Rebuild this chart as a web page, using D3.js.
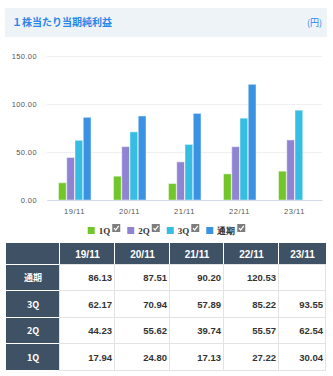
<!DOCTYPE html>
<html><head><meta charset="utf-8">
<script src="https://cdn.jsdelivr.net/npm/d3@7"></script>
<style>
body{margin:0;background:#fff;}
svg{display:block;}
</style></head>
<body>
<svg id="c" width="333" height="376"></svg>
<script>
const categories = ["19/11","20/11","21/11","22/11","23/11"];
const seriesNames = ["1Q","2Q","3Q","通期"];
const q1 = [17.94, 24.80, 17.13, 27.22, 30.04];
const q2 = [44.23, 55.62, 39.74, 55.57, 62.54];
const q3 = [62.17, 70.94, 57.89, 85.22, 93.55];
const full = [86.13, 87.51, 90.20, 120.53, null];
const yTicks = [0, 50, 100, 150];
const colors = ["#72c62a","#9084d2","#36bde2","#3a93e2"];
const seriesVals = [q1, q2, q3, full];
const tableRows = [["通期", full],["3Q", q3],["2Q", q2],["1Q", q1]];

const svg = d3.select("#c");
const jp = "'Noto Sans CJK JP','Noto Sans',sans-serif";
const num = "'Liberation Sans',Arial,sans-serif";

// header band
svg.append("rect").attr("x",5).attr("y",8).attr("width",322).attr("height",29).attr("fill","#eef3f8");
svg.append("text").attr("x",12).attr("y",26).attr("font-family",jp).attr("font-size",10).attr("font-weight","bold")
  .attr("fill","#2a86e8").text("１株当たり当期純利益");
svg.append("text").attr("x",322).attr("y",26).attr("text-anchor","end").attr("font-family",jp).attr("font-size",9)
  .attr("fill","#2a86e8").text("(円)");

// chart
const x0 = d3.scaleBand().domain(categories).range([47,322]).paddingInner(0.4).paddingOuter(0.2);
const x1 = d3.scaleBand().domain(seriesNames).range([0, x0.bandwidth()]);
const y = d3.scaleLinear().domain([0,150]).range([200,56]);

const yAxis = svg.append("g").attr("transform","translate(47,0)")
  .call(d3.axisLeft(y).tickValues(yTicks).tickFormat(d3.format(".2f")).tickSize(-275).tickPadding(10));
yAxis.select(".domain").remove();
yAxis.selectAll(".tick line").attr("stroke","#eeeff2");
yAxis.selectAll(".tick text").attr("font-family",num).attr("font-size",7.5).attr("fill","#555").attr("letter-spacing","0.4");

const gBars = svg.append("g");
seriesNames.forEach((s,si)=>{
  gBars.selectAll(null).data(categories.map((c,i)=>({c, v: seriesVals[si][i]})).filter(d=>d.v!=null))
    .enter().append("rect")
    .attr("x", d=>x0(d.c)+x1(s)+0.5)
    .attr("y", d=>y(d.v))
    .attr("width", x1.bandwidth()-0.5)
    .attr("height", d=>y(0)-y(d.v))
    .attr("fill", colors[si])
    .attr("stroke","rgba(255,255,255,0.45)").attr("stroke-width",1);
});

const xAxis = svg.append("g").attr("transform","translate(0,200)")
  .call(d3.axisBottom(x0).tickSize(0).tickPadding(9));
xAxis.select(".domain").attr("stroke","#d3dbeb").attr("stroke-width",1);
xAxis.selectAll(".tick text").attr("font-family",num).attr("font-size",7.5).attr("fill","#555").attr("letter-spacing","0.6");

// legend
const leg = svg.append("g");
let lx = 0;
seriesNames.forEach((s,i)=>{
  const g = leg.append("g").attr("transform",`translate(${lx},0)`);
  g.append("rect").attr("x",0).attr("y",227).attr("width",7).attr("height",7).attr("fill",colors[i]);
  const t = g.append("text").attr("x",11).attr("y",234).attr("font-family","'Liberation Serif','DejaVu Serif',serif")
    .attr("font-size",9).attr("font-weight","bold").attr("fill","#333").text(s);
  const tw = t.node().getComputedTextLength();
  const cx = 11+tw+2;
  g.append("rect").attr("x",cx).attr("y",224).attr("width",8).attr("height",8).attr("fill","#7d7d7d");
  g.append("path").attr("d",`M${cx+1.8},${228.2} L${cx+3.4},${230} L${cx+6.5},${225.8}`)
    .attr("fill","none").attr("stroke","#fff").attr("stroke-width",1.2);
  lx += cx+8+7;
});
const lw = lx-7;
leg.attr("transform",`translate(${166.5-lw/2},0)`);

// table
const colX = [6,60,115,170,224,279,326];
const hdrY = 243, hdrH = 21;
const rowY = [265,291,318,344], rowH = [25,26,25,26];
const dark = "#3f5265";
// header row
for(let c=0;c<6;c++){
  svg.append("rect").attr("x",colX[c]).attr("y",hdrY).attr("width",colX[c+1]-colX[c]-(c<5?1:0)).attr("height",hdrH).attr("fill",dark);
  if(c>0) svg.append("text").attr("x",(colX[c]+colX[c+1])/2).attr("y",hdrY+14.5).attr("text-anchor","middle")
    .attr("font-family",num).attr("font-size",10).attr("font-weight","bold").attr("fill","#fff").text(categories[c-1]);
}
tableRows.forEach((r,ri)=>{
  const yy = rowY[ri], hh = rowH[ri];
  svg.append("rect").attr("x",colX[0]).attr("y",yy).attr("width",colX[1]-colX[0]-1).attr("height",hh).attr("fill",dark);
  svg.append("text").attr("x",(colX[0]+colX[1])/2).attr("y",yy+hh/2+3.5).attr("text-anchor","middle")
    .attr("font-family",jp).attr("font-size",9).attr("font-weight","bold").attr("fill","#fff").text(r[0]);
  for(let c=1;c<6;c++){
    svg.append("rect").attr("x",colX[c]-0.5).attr("y",yy-0.5).attr("width",colX[c+1]-colX[c]).attr("height",hh+1)
      .attr("fill","#fff").attr("stroke","#e3e3e3").attr("stroke-width",1);
    const v = r[1][c-1];
    if(v!=null) svg.append("text").attr("x",colX[c+1]-3).attr("y",yy+hh/2+3.5).attr("text-anchor","end")
      .attr("font-family",num).attr("font-size",9.5).attr("font-weight","bold").attr("fill","#333").text(d3.format(".2f")(v));
  }
});
</script>
</body></html>
